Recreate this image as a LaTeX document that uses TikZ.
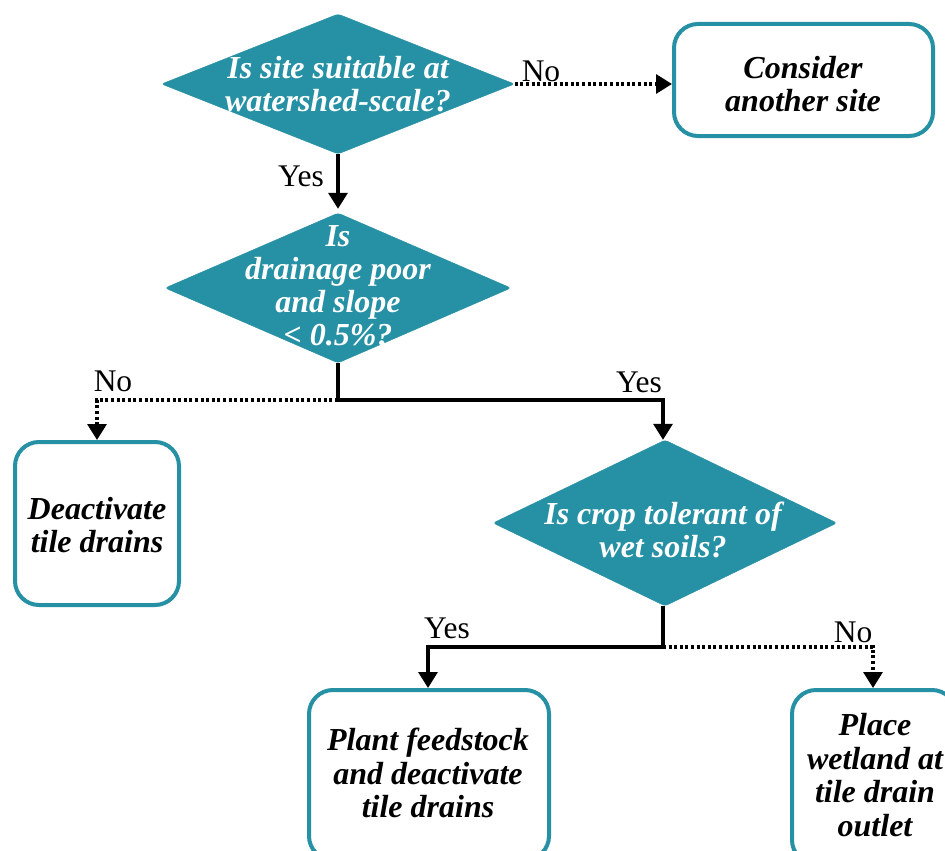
\documentclass[tikz,border=0pt]{standalone}
\usepackage{fontspec}
\setmainfont{Liberation Serif}
\usetikzlibrary{shapes.geometric,arrows.meta}
\definecolor{teal}{RGB}{38,144,164}
\tikzset{
  decision/.style={diamond, fill=teal, draw=teal, inner sep=0pt, rounded corners=3pt},
  qtext/.style={text=white, align=center, font=\fontsize{32}{33}\selectfont\bfseries\itshape, inner sep=0pt},
  outcome/.style={rectangle, draw=teal, line width=4pt, rounded corners=24pt, fill=white},
  otext/.style={text=black, align=center, font=\fontsize{32}{33.5}\selectfont\bfseries\itshape, inner sep=0pt},
  lbl/.style={font=\fontsize{31.5}{32}\selectfont, inner sep=0pt},
  solidline/.style={line width=3.2pt},
  dotline/.style={line width=3.2pt, dash pattern=on 3pt off 2.6pt},
  tip/.style={-{Triangle[width=19pt,length=16pt]}}
}
\begin{document}
\begin{tikzpicture}[x=1pt,y=-1pt]
\useasboundingbox (0,0) rectangle (945,851);
\clip (0,0) rectangle (945,851);
\fill[white] (0,0) rectangle (945,851);

% decisions
\node[decision, minimum width=353pt, minimum height=140pt] (d1) at (338,84) {};
\node[qtext] (q1) at (338,84) {Is site suitable at\\watershed-scale?};
\node[decision, minimum width=346pt, minimum height=150pt] (d2) at (338,288) {};
\node[qtext] (q2) at (338,286) {Is\\drainage poor\\and slope\\< 0.5\%?};
\node[decision, minimum width=344pt, minimum height=166pt] (d3) at (665,523) {};
\node[qtext] (q3) at (663,530) {Is crop tolerant of\\wet soils?};

% outcomes
\node[outcome, minimum width=259pt, minimum height=112pt] (b1) at (803.5,80) {};
\node[otext] (t1) at (803,84) {Consider\\another site};
\node[outcome, minimum width=164pt, minimum height=163pt] (b2) at (97,523.5) {};
\node[otext] (t2) at (97,525) {Deactivate\\tile drains};
\node[outcome, minimum width=240pt, minimum height=170pt] (b3) at (429,775) {};
\node[otext] (t3) at (428,773) {Plant feedstock\\and deactivate\\tile drains};
\node[outcome, minimum width=164pt, minimum height=174pt] (b4) at (874,777) {};
\node[otext] (t4) at (875,775) {Place\\wetland at\\tile drain\\outlet};

% junctions
\coordinate (j1) at (338,400);
\coordinate (j2) at (663,647);

% connectors
\draw[dotline, tip] (d1.east) -- (d1.east -| b1.west);
\draw[solidline, tip, shorten >=4pt] (d1.south) -- (d2.north);
\draw[dotline, tip] (j1) -| (b2.north);
\draw[solidline] (d2.south) -- (j1);
\draw[solidline, tip] (j1) -| ([xshift=-2pt]d3.north);
\draw[solidline] (d3.south -| j2) -- (j2);
\draw[solidline, tip] (j2) -| ([xshift=-1pt]b3.north);
\draw[dotline, tip] (j2) -| ([xshift=-1pt]b4.north);

% branch labels
\node[lbl] (n1) at (541,71) {No};
\node[lbl] (y1) at (301,176) {Yes};
\node[lbl] (n2) at (113,381) {No};
\node[lbl] (y2) at (639,382) {Yes};
\node[lbl] (y3) at (447,628) {Yes};
\node[lbl] (n3) at (853,632) {No};
\end{tikzpicture}
\end{document}
